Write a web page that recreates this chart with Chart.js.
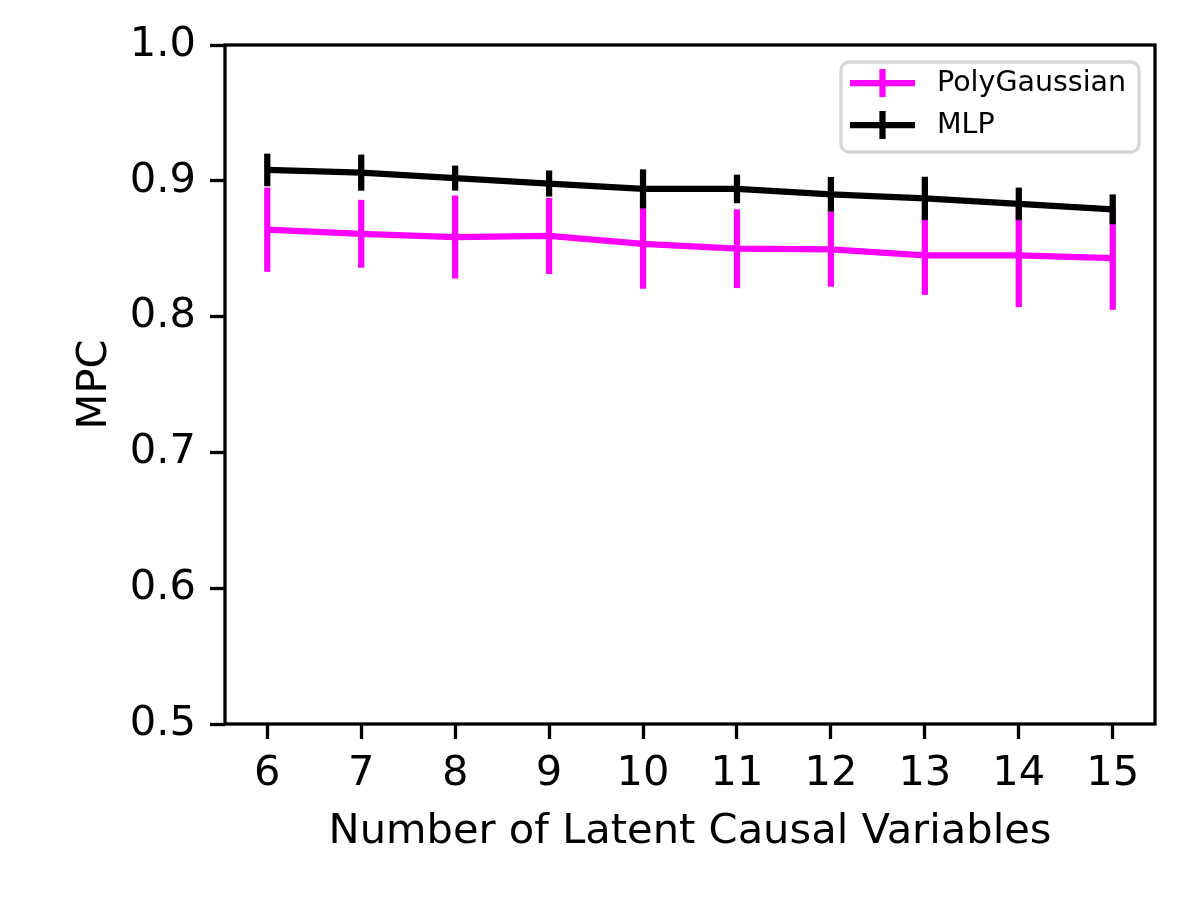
<!DOCTYPE html>
<html>
<head>
<meta charset="utf-8">
<script src="https://cdn.jsdelivr.net/npm/chart.js@4.4.1/dist/chart.umd.min.js"></script>
<style>
    html, body { margin: 0; padding: 0; background: #fff; }
    #wrap { width: 1200px; height: 900px; }
</style>
</head>
<body>
<div id="wrap"><canvas id="mpc-chart" width="1200" height="900"></canvas></div>
<script>
const latentVars = [6, 7, 8, 9, 10, 11, 12, 13, 14, 15];
const polyMean = [0.864, 0.861, 0.8586, 0.8594, 0.8535, 0.850, 0.8495, 0.845, 0.845, 0.843];
const polyErr = [0.031, 0.025, 0.0306, 0.028, 0.033, 0.029, 0.0275, 0.029, 0.038, 0.038];
const mlpMean = [0.908, 0.906, 0.902, 0.898, 0.894, 0.894, 0.890, 0.887, 0.883, 0.879];
const mlpErr = [0.012, 0.0133, 0.0092, 0.0096, 0.0144, 0.0105, 0.0128, 0.016, 0.012, 0.011];
const yTicks = [0.5, 0.6, 0.7, 0.8, 0.9, 1.0];

const FONT = 'DejaVu Sans';
const FS = 41.6;
const LW = 6.25;

// vertical error bars, drawn right after each dataset's line
const errorBars = {
    id: 'errorBars',
    afterDatasetDraw(chart, args) {
        const ds = chart.data.datasets[args.index];
        const ctx = chart.ctx;
        const x = chart.scales.x, y = chart.scales.y;
        ctx.save();
        ctx.strokeStyle = ds.borderColor;
        ctx.lineWidth = LW;
        ctx.lineCap = 'butt';
        ds.data.forEach((p, i) => {
            const px = x.getPixelForValue(p.x);
            ctx.beginPath();
            ctx.moveTo(px, y.getPixelForValue(p.y + ds.errors[i]));
            ctx.lineTo(px, y.getPixelForValue(p.y - ds.errors[i]));
            ctx.stroke();
        });
        ctx.restore();
    }
};

// axes frame + legend box inside plot
const frameAndLegend = {
    id: 'frameAndLegend',
    afterDraw(chart) {
        const ctx = chart.ctx;
        const a = chart.chartArea;
        ctx.save();
        ctx.strokeStyle = '#000';
        ctx.lineWidth = 3.3;
        ctx.strokeRect(a.left, a.top, a.right - a.left, a.bottom - a.top);

        const bx = 841, by = 62, bw = 298, bh = 90;
        ctx.beginPath();
        ctx.roundRect(bx, by, bw, bh, 8);
        ctx.fillStyle = 'rgba(255,255,255,0.8)';
        ctx.fill();
        ctx.strokeStyle = '#d6d6d6';
        ctx.lineWidth = 3.3;
        ctx.stroke();

        const rows = [83, 125];
        chart.data.datasets.forEach((ds, i) => {
            const cy = rows[i];
            ctx.strokeStyle = ds.borderColor;
            ctx.lineWidth = LW;
            ctx.beginPath();
            ctx.moveTo(850, cy);
            ctx.lineTo(915, cy);
            ctx.moveTo(882.5, cy - 14);
            ctx.lineTo(882.5, cy + 14);
            ctx.stroke();
            ctx.fillStyle = '#000';
            ctx.font = '28.5px "' + FONT + '"';
            ctx.textBaseline = 'middle';
            ctx.textAlign = 'left';
            ctx.fillText(ds.label, 937, cy + 1);
        });
        ctx.restore();
    }
};

new Chart(document.getElementById('mpc-chart'), {
    type: 'line',
    data: {
        datasets: [
            {
                label: 'PolyGaussian',
                data: latentVars.map((v, i) => ({ x: v, y: polyMean[i] })),
                errors: polyErr,
                borderColor: '#ff00ff',
                borderWidth: LW,
                pointRadius: 0,
                tension: 0,
                order: 1
            },
            {
                label: 'MLP',
                data: latentVars.map((v, i) => ({ x: v, y: mlpMean[i] })),
                errors: mlpErr,
                borderColor: '#000000',
                borderWidth: LW,
                pointRadius: 0,
                tension: 0,
                order: 0
            }
        ]
    },
    options: {
        responsive: false,
        animation: false,
        devicePixelRatio: 1,
        layout: { padding: { left: 0, top: 45, right: 45, bottom: 0 } },
        plugins: {
            legend: { display: false },
            tooltip: { enabled: false }
        },
        scales: {
            x: {
                type: 'linear',
                min: 5.55,
                max: 15.45,
                afterBuildTicks: axis => { axis.ticks = latentVars.map(v => ({ value: v })); },
                afterFit: axis => { axis.height = 176; },
                border: { display: false },
                grid: { drawOnChartArea: false, drawTicks: true, tickLength: 15, tickWidth: 3.3, tickColor: '#000' },
                ticks: { color: '#000', padding: 10, font: { family: FONT, size: FS }, maxRotation: 0 },
                title: {
                    display: true,
                    text: 'Number of Latent Causal Variables',
                    color: '#000',
                    font: { family: FONT, size: FS },
                    padding: { top: 0, bottom: 43 }
                }
            },
            y: {
                min: 0.5,
                max: 1.0,
                afterBuildTicks: axis => { axis.ticks = yTicks.map(v => ({ value: v })); },
                afterFit: axis => { axis.width = 225; },
                border: { display: false },
                grid: { drawOnChartArea: false, drawTicks: true, tickLength: 15, tickWidth: 3.3, tickColor: '#000' },
                ticks: {
                    color: '#000',
                    padding: 14,
                    font: { family: FONT, size: FS },
                    callback: v => v.toFixed(1)
                },
                title: {
                    display: true,
                    text: 'MPC',
                    color: '#000',
                    font: { family: FONT, size: FS },
                    padding: { top: 70, bottom: 0 }
                }
            }
        }
    },
    plugins: [errorBars, frameAndLegend]
});
</script>
</body>
</html>
